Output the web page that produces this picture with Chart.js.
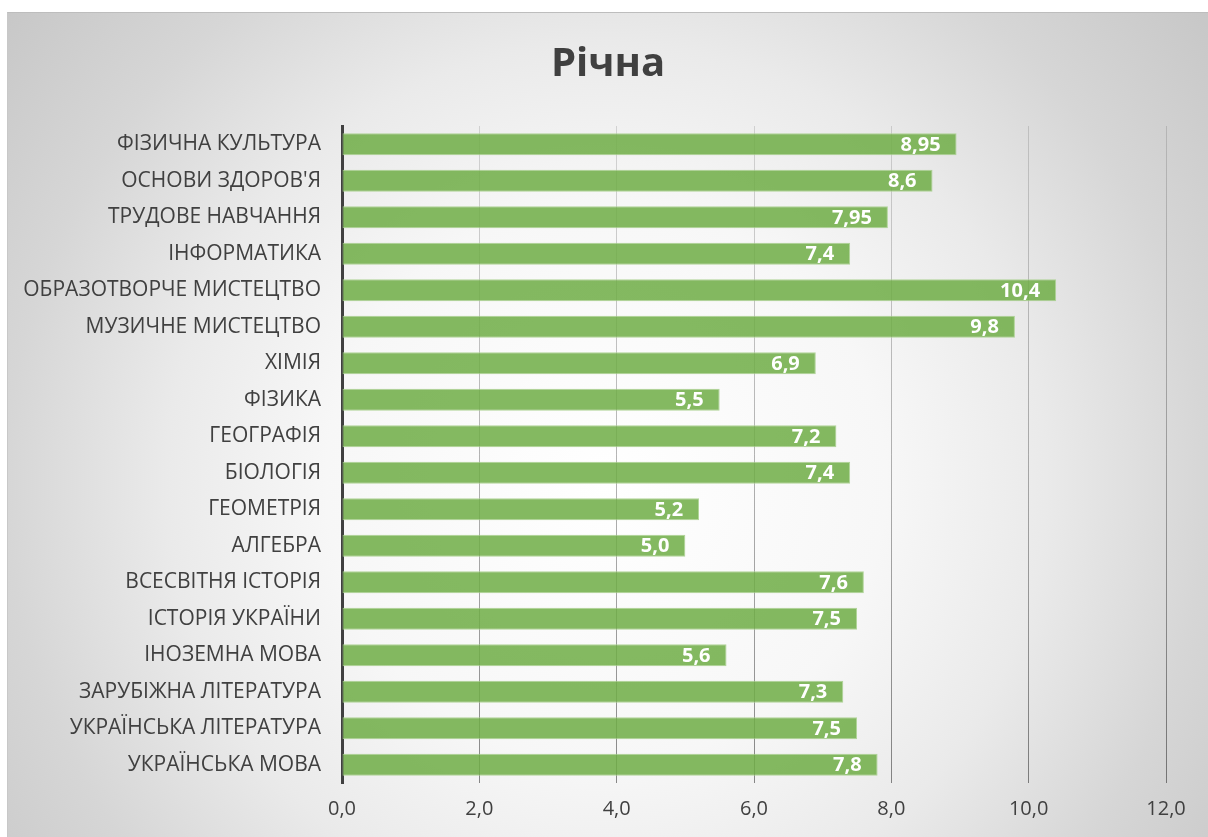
<!DOCTYPE html>
<html>
<head>
<meta charset="utf-8">
<script src="https://cdn.jsdelivr.net/npm/chart.js@4"></script>
<style>
  html, body { margin: 0; padding: 0; background: #ffffff; }
  #box {
    position: absolute; left: 7px; top: 12px; width: 1201px; height: 825px;
    border-top: 1px solid #bdbdbd; border-left: 1px solid #c8c8c8; box-sizing: border-box;
  }
</style>
</head>
<body>
<div id="box"><canvas id="grafico"></canvas></div>
<script>
// Предмети (зверху вниз) і річні оцінки
var predmety = ["ФІЗИЧНА КУЛЬТУРА", "ОСНОВИ ЗДОРОВ'Я", "ТРУДОВЕ НАВЧАННЯ", "ІНФОРМАТИКА",
    "ОБРАЗОТВОРЧЕ МИСТЕЦТВО", "МУЗИЧНЕ МИСТЕЦТВО", "ХІМІЯ", "ФІЗИКА", "ГЕОГРАФІЯ", "БІОЛОГІЯ",
    "ГЕОМЕТРІЯ", "АЛГЕБРА", "ВСЕСВІТНЯ ІСТОРІЯ", "ІСТОРІЯ УКРАЇНИ", "ІНОЗЕМНА МОВА",
    "ЗАРУБІЖНА ЛІТЕРАТУРА", "УКРАЇНСЬКА ЛІТЕРАТУРА", "УКРАЇНСЬКА МОВА"];
var richna = [8.95, 8.6, 7.95, 7.4, 10.4, 9.8, 6.9, 5.5, 7.2, 7.4, 5.2, 5.0, 7.6, 7.5, 5.6, 7.3, 7.5, 7.8];
var osX = { min: 0, max: 12, krok: 2 };

var shryft = "'Open Sans', 'Noto Sans', sans-serif";

function formatZnach(v) {
    var s = Math.round(v * 10) === v * 10 ? v.toFixed(1) : v.toFixed(2);
    return s.replace('.', ',');
}

// фон з радіальним градієнтом
var fonPlugin = {
    id: 'fon',
    beforeDraw: function (chart) {
        var c = chart.ctx;
        var w = chart.width, h = chart.height;
        var g = c.createRadialGradient(598, 470, 0, 598, 470, 800);
        g.addColorStop(0, '#ffffff');
        g.addColorStop(0.35, '#f7f7f7');
        g.addColorStop(0.55, '#eaeaea');
        g.addColorStop(0.75, '#d6d6d6');
        g.addColorStop(1, '#c4c4c4');
        c.save();
        c.fillStyle = g;
        c.fillRect(0, 0, w, h);
        c.restore();
    }
};

// підписи значень всередині стовпців
var pidpysy = {
    id: 'pidpysy',
    afterDatasetsDraw: function (chart) {
        var c = chart.ctx;
        var meta = chart.getDatasetMeta(0);
        c.save();
        c.font = "bold 20px " + shryft;
        c.fillStyle = '#ffffff';
        c.textAlign = 'right';
        c.textBaseline = 'middle';
        meta.data.forEach(function (bar, i) {
            c.fillText(formatZnach(richna[i]), bar.x - 16, bar.y + 1);
        });
        c.restore();
    }
};

var ctx = document.getElementById('grafico').getContext('2d');
var grafik = new Chart(ctx, {
    type: 'bar',
    data: {
        labels: predmety,
        datasets: [{
            label: 'Річна',
            data: richna,
            backgroundColor: 'rgba(112, 173, 71, 0.86)',
            borderColor: 'rgba(169, 208, 142, 0.9)',
            borderWidth: 1,
            borderSkipped: false,
            barPercentage: 0.6,
            categoryPercentage: 1.0
        }]
    },
    options: {
        indexAxis: 'y',
        responsive: true,
        maintainAspectRatio: false,
        animation: false,
        layout: { padding: { left: 0, right: 0, top: 0, bottom: 2 } },
        plugins: {
            legend: { display: false },
            tooltip: { enabled: false },
            title: {
                display: true,
                text: 'Річна',
                color: '#404040',
                font: { family: shryft, size: 40, weight: 'bold' },
                padding: { top: 28, bottom: 37 }
            }
        },
        scales: {
            x: {
                min: osX.min,
                max: osX.max,
                afterFit: function (scale) { scale.paddingRight = 42; },
                ticks: {
                    stepSize: osX.krok,
                    color: '#404040',
                    font: { family: shryft, size: 20 },
                    padding: 14,
                    callback: function (v) { return v.toFixed(1).replace('.', ','); }
                },
                grid: {
                    drawTicks: false,
                    lineWidth: 1,
                    color: function (c) {
                        var ch = c.chart, a = ch.chartArea;
                        if (!a) return '#bfbfbf';
                        var g = ch.ctx.createLinearGradient(0, a.top, 0, a.bottom);
                        g.addColorStop(0, 'rgba(0,0,0,0.13)');
                        g.addColorStop(1, 'rgba(0,0,0,0.45)');
                        return g;
                    }
                },
                border: { display: false }
            },
            y: {
                afterFit: function (scale) { scale.width = 334; },
                ticks: {
                    color: '#404040',
                    font: { family: shryft, size: 21 },
                    padding: 21
                },
                grid: { display: false, drawTicks: false },
                border: { display: true, color: '#404040', width: 3 }
            }
        }
    },
    plugins: [fonPlugin, pidpysy]
});
</script>
</body>
</html>
